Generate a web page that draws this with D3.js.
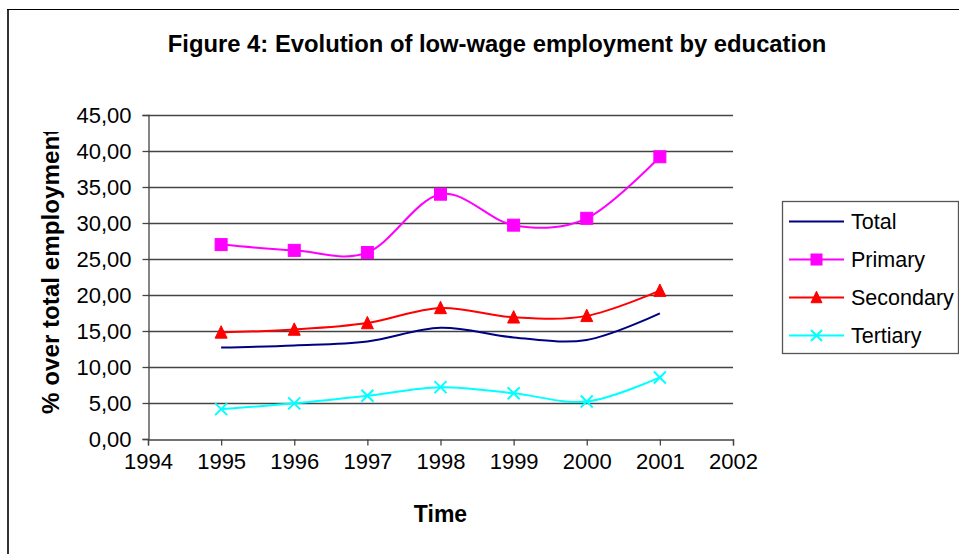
<!DOCTYPE html>
<html><head><meta charset="utf-8">
<script src="https://cdn.jsdelivr.net/npm/d3@7"></script>
<style>
html,body{margin:0;padding:0;background:#fff;}
svg{display:block;font-family:"Liberation Sans",Arial,sans-serif;}
</style></head>
<body>
<script>
const years = [1995, 1996, 1997, 1998, 1999, 2000, 2001];
const total     = [12.7, 13.0, 13.55, 15.45, 14.1, 13.75, 17.45];
const primary   = [27.0, 26.2, 25.9, 34.0, 29.7, 30.65, 39.2];
const secondary = [14.8, 15.2, 16.1, 18.2, 16.9, 17.1, 20.6];
const tertiary  = [4.15, 4.95, 6.0, 7.2, 6.35, 5.2, 8.55];
const xTicks = [1994, 1995, 1996, 1997, 1998, 1999, 2000, 2001, 2002];
const yTicks = [0, 5, 10, 15, 20, 25, 30, 35, 40, 45];
const seriesNames = ["Total", "Primary", "Secondary", "Tertiary"];
const seriesColors = ["#000080", "#FF00FF", "#FF0000", "#00FFFF"];
const seriesMarkers = ["none", "square", "triangle", "x"];
const seriesValues = [total, primary, secondary, tertiary];

const W = 959, H = 554;
const svg = d3.select("body").append("svg").attr("width", W).attr("height", H);

// outer chart border
svg.append("line").attr("x1", 8).attr("x2", 8).attr("y1", 9).attr("y2", H + 5)
  .attr("stroke", "#333").attr("stroke-width", 2);
svg.append("line").attr("x1", 7).attr("x2", W + 5).attr("y1", 9.5).attr("y2", 9.5)
  .attr("stroke", "#000").attr("stroke-width", 1);

const x = d3.scaleLinear().domain([1994, 2002]).range([148, 733]);
const y = d3.scaleLinear().domain([0, 45]).range([439, 115]);

// gridlines
svg.append("g").selectAll("line").data(yTicks.filter(d => d > 0)).join("line")
  .attr("x1", x(1994)).attr("x2", x(2002))
  .attr("y1", d => Math.round(y(d)) + 0.5).attr("y2", d => Math.round(y(d)) + 0.5)
  .attr("stroke", "#444").attr("stroke-width", 1.3);

// axes
const xAxis = d3.axisBottom(x).tickValues(xTicks).tickFormat(d3.format("d")).tickSize(6).tickPadding(8);
const gx = svg.append("g").attr("transform", `translate(0,${Math.round(y(0)) + 0.5})`).call(xAxis);
gx.select(".domain").attr("stroke", "#444").attr("stroke-width", 1.3);
gx.selectAll(".tick line").attr("stroke", "#444").attr("stroke-width", 1.3);
gx.selectAll(".tick text").attr("font-size", 22).attr("fill", "#000")
  .attr("font-family", "Liberation Sans, Arial, sans-serif").attr("dy", "0.71em");

const fmt = d => d.toFixed(2).replace(".", ",");
const yAxis = d3.axisLeft(y).tickValues(yTicks).tickFormat(fmt).tickSize(6).tickPadding(11);
const gy = svg.append("g").attr("transform", `translate(${Math.round(x(1994)) + 0.5},0)`).call(yAxis);
gy.select(".domain").attr("stroke", "#444").attr("stroke-width", 1.3);
gy.selectAll(".tick line").attr("stroke", "#444").attr("stroke-width", 1.3);
gy.selectAll(".tick text").attr("font-size", 22).attr("fill", "#000")
  .attr("font-family", "Liberation Sans, Arial, sans-serif");

// titles
svg.append("text").attr("x", 497).attr("y", 52).attr("text-anchor", "middle")
  .attr("font-size", 23.8).attr("font-weight", "bold").text("Figure 4: Evolution of low-wage employment by education");
svg.append("text").attr("x", x(1998)).attr("y", 522).attr("text-anchor", "middle")
  .attr("font-size", 23).attr("font-weight", "bold").text("Time");

svg.append("clipPath").attr("id", "ylabclip").append("rect")
  .attr("x", 0).attr("y", 132).attr("width", 140).attr("height", 320);
svg.append("g").attr("clip-path", "url(#ylabclip)")
  .append("text").attr("transform", "translate(59,414) rotate(-90)")
  .attr("text-anchor", "start").attr("font-size", 24.2).attr("font-weight", "bold")
  .text("% over total employment");

// lines
const line = d3.line().x((d, i) => x(years[i])).y(d => y(d)).curve(d3.curveCardinal.tension(0));

function drawMarker(g, type, color, cx, cy, s) {
  if (type === "square") {
    g.append("rect").attr("x", cx - s / 2).attr("y", cy - s / 2).attr("width", s).attr("height", s)
      .attr("fill", color).attr("stroke", color).attr("stroke-width", 1);
  } else if (type === "triangle") {
    const h = s * 0.95;
    g.append("path").attr("d", `M${cx},${cy - h / 2 - 1}L${cx + s / 2},${cy + h / 2}L${cx - s / 2},${cy + h / 2}Z`)
      .attr("fill", color).attr("stroke", color).attr("stroke-width", 1);
  } else if (type === "x") {
    const r = s / 2;
    g.append("path").attr("d", `M${cx - r},${cy - r}L${cx + r},${cy + r}M${cx - r},${cy + r}L${cx + r},${cy - r}`)
      .attr("stroke", color).attr("stroke-width", 2).attr("fill", "none");
  }
}

seriesValues.forEach((vals, si) => {
  const g = svg.append("g");
  g.append("path").attr("d", line(vals)).attr("fill", "none")
    .attr("stroke", seriesColors[si]).attr("stroke-width", 2);
  vals.forEach((v, i) => drawMarker(g, seriesMarkers[si], seriesColors[si], x(years[i]), y(v), 12));
});

// legend
const lg = svg.append("g");
lg.append("rect").attr("x", 782.5).attr("y", 201.5).attr("width", 176).attr("height", 152)
  .attr("fill", "#fff").attr("stroke", "#555").attr("stroke-width", 1.3);
seriesNames.forEach((name, i) => {
  const cy = 221.5 + i * 38;
  lg.append("line").attr("x1", 789).attr("x2", 844).attr("y1", cy).attr("y2", cy)
    .attr("stroke", seriesColors[i]).attr("stroke-width", 2);
  drawMarker(lg, seriesMarkers[i], seriesColors[i], 816.5, cy, 11);
  lg.append("text").attr("x", 851).attr("y", cy).attr("dy", "0.36em")
    .attr("font-size", 21.5).text(name);
});
</script>
</body></html>
